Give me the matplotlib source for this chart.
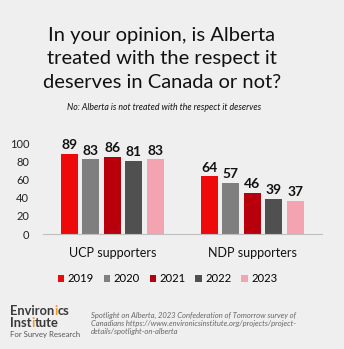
import matplotlib.pyplot as plt
import numpy as np

groups = ["UCP supporters", "NDP supporters"]
years = ["2019", "2020", "2021", "2022", "2023"]
values = {
    "2019": [89, 64],
    "2020": [83, 57],
    "2021": [86, 46],
    "2022": [81, 39],
    "2023": [83, 37],
}
colors = ["#ee0a0a", "#7f7f7f", "#b8000c", "#505050", "#f4a3b0"]
yticks = [0, 20, 40, 60, 80, 100]

bg = "#efefef"
fig = plt.figure(figsize=(3.44, 3.49), dpi=100, facecolor=bg)
plt.rcParams['font.family'] = ['Lato', 'DejaVu Sans']

ax = fig.add_axes([0.125, 0.3295, 0.811, 0.258])
ax.set_facecolor(bg)

centers = np.array([0.0, 6.51])
pitch = 1.0
width = 0.79
for i, y in enumerate(years):
    xs = centers + (i - 2) * pitch
    bars = ax.bar(xs, values[y], width=width, color=colors[i], label=y, zorder=2)
    for b, v in zip(bars, values[y]):
        ax.text(b.get_x() + b.get_width() / 2, v + 3, str(v), ha='center', va='bottom',
                fontsize=10, fontweight='bold', color='#111111', clip_on=False)

ax.set_xlim(-3.23, 9.75)
ax.set_ylim(0, 100)
ax.set_yticks(yticks)
ax.set_yticklabels([str(t) for t in yticks], fontsize=8, color='#222222')
ax.set_xticks(centers)
ax.set_xticklabels(groups, fontsize=9, color='#111111')
ax.tick_params(axis='both', length=0)
ax.tick_params(axis='x', pad=9)
ax.tick_params(axis='y', pad=10)
for s in ['top', 'right', 'left']:
    ax.spines[s].set_visible(False)
ax.spines['bottom'].set_color('#bfbfbf')
ax.spines['bottom'].set_linewidth(0.8)

leg = fig.legend(loc='center', bbox_to_anchor=(0.487, 1 - 279 / 349), ncol=5, frameon=False,
                 fontsize=8.1, handlelength=0.6, handleheight=0.6, handletextpad=0.3,
                 columnspacing=0.85)

fig.text(0.47, 1 - 35 / 349, "In your opinion, is Alberta", ha='center', va='center',
         fontsize=14.5, color='#111111')
fig.text(0.47, 1 - 58.5 / 349, "treated with the respect it", ha='center', va='center',
         fontsize=14.5, color='#111111')
fig.text(0.47, 1 - 82 / 349, "deserves in Canada or not?", ha='center', va='center',
         fontsize=14.5, color='#111111')
fig.text(0.478, 1 - 107 / 349, "No: Alberta is not treated with the respect it deserves",
         ha='center', va='center', fontsize=6.3, style='italic', color='#111111')

# Logo text with orange "i"
renderer = fig.canvas.get_renderer()
dark = '#3a3a3a'
orange = '#f39a2b'


def width_of(s, **kw):
    probe = fig.text(0, 0, s, **kw)
    w = probe.get_window_extent(renderer=renderer).width
    probe.remove()
    return w


def logo_word(x_px, y_px, parts, **kw):
    # parts: list of (text, color); each part right-aligned to the end of the cumulative prefix
    yf = 1 - y_px / 349
    prefix = ""
    for k, (s, c) in enumerate(parts):
        prefix += s
        if k == 0:
            fig.text(x_px / 344, yf, s, ha='left', va='center', color=c, **kw)
        else:
            w = width_of(prefix, **kw)
            fig.text((x_px + w) / 344, yf, s, ha='right', va='center', color=c, **kw)


logo_word(10, 311, [("Environ", dark), ("i", orange), ("cs", dark)], fontsize=9.3,
          fontweight='bold')
logo_word(10, 323, [("Inst", dark), ("i", orange), ("tute", dark)], fontsize=9.3,
          fontweight='bold')
fig.text(10 / 344, 1 - 334 / 349, "For Survey Research", ha='left', va='center', fontsize=5.6,
         color='#555555')
foot = ("Spotlight on Alberta, 2023 Confederation of Tomorrow survey of\n"
        "Canadians https://www.environicsinstitute.org/projects/project-\n"
        "details/spotlight-on-alberta")
fig.text(91 / 344, 1 - 323.5 / 349, foot, ha='left', va='center', fontsize=5.5,
         style='italic', color='#666666', linespacing=1.1)

fig.savefig("out.png", dpi=100, facecolor=bg)
